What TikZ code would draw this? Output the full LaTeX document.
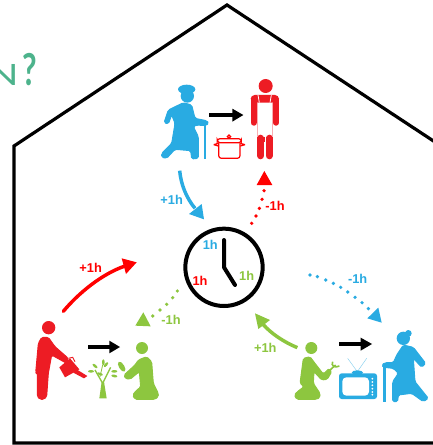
\documentclass[tikz,border=0pt]{standalone}
\usepackage{fontspec}
\setmainfont{Liberation Sans}
\newfontfamily\latofont{Lato}
\definecolor{cblue}{HTML}{29ABE2}
\definecolor{cred}{HTML}{ED1C24}
\definecolor{pred}{HTML}{FF0000}
\definecolor{cgreen}{HTML}{8DC63F}
\definecolor{cteal}{HTML}{4DB38C}
\tikzset{
  lab/.style={font=\bfseries\fontsize{9.6}{11}\selectfont,inner sep=0pt},
  figshape/.style={line join=round,rounded corners=1.2pt,line width=0.7pt},
  blackarrow/.style={line width=2.3pt},
  zoomA/.style={shift={(130,60)},x=0.25pt,y=-0.25pt},
  zoomB/.style={shift={(20,250)},x=0.25pt,y=-0.25pt},
  zoomC/.style={shift={(240,260)},x=0.25pt,y=-0.25pt},
  zoomD/.style={shift={(170,215)},x=0.25pt,y=-0.25pt},
}
\begin{document}
\begin{tikzpicture}[x=0.75pt,y=-0.75pt]
\useasboundingbox (0,0) rectangle (432,445);
\fill[white] (0,0) rectangle (432,445);
% heading fragment
\node[anchor=base east,inner sep=0pt,text=cteal,font=\latofont\fontsize{22}{24}\selectfont,xscale=1.35] (headn) at (19,86) {N};
\node[anchor=base east,inner sep=0pt,text=cteal,font=\latofont\bfseries\fontsize{33}{36}\selectfont,xscale=0.72] (headq) at (37,86) {?};
% house
\coordinate (h1) at (14,146);
\coordinate (h2) at (227,5);
\coordinate (h3) at (440,145.3);
\coordinate (h4) at (440,443);
\coordinate (h5) at (14,443);
\draw[line width=2.4pt,line join=miter] (h3) -- (h2) -- (h1) -- (h5) -- (h4);
% clock
\begin{scope}[zoomD]
\node[circle,draw,line width=3pt,minimum size=58pt,inner sep=0pt] (clock) at (162,157) {};
\draw[line width=3pt,line cap=round,line join=round] (162,75) -- (162,157) -- (195,210);
\node[lab,text=cblue] at (121,90) {1h};
\node[lab,text=pred] at (90,197) {1h};
\node[lab,text=cgreen] at (230,183) {1h};
\end{scope}
% upper-left grandmother and upper-right cook
\begin{scope}[zoomA]
\fill[cblue] (170,88) ellipse (26 and 14);
\fill[cblue] (172,108) circle (20);
\filldraw[cblue,figshape] (160,128) -- (185,135) -- (195,175) -- (230,182) -- (237,190) -- (225,197) -- (200,195) -- (190,200) -- (205,230) -- (205,295) -- (185,297) -- (182,272) -- (135,268) -- (110,295) -- (95,292) -- (95,280) -- (125,250) -- (135,190) -- (125,165) -- (115,192) -- (102,188) -- (115,150) -- cycle;
\draw[cblue,line width=1.6pt] (226,195) -- (226,298);
% cook
\fill[cred] (407,78) circle (21);
\draw[cred,line width=4.6pt,line cap=round] (371,120) -- (371,188);
\draw[cred,line width=4.6pt,line cap=round] (438,120) -- (438,188);
\fill[cred,rounded corners=3pt] (362,105) rectangle (447,128);
\fill[cred] (362,120) rectangle (380,135);
\fill[cred] (429,120) rectangle (447,135);
\fill[cred] (380,230) rectangle (430,245);
\draw[cred,line width=5.5pt,line cap=round] (392,235) -- (392,287);
\draw[cred,line width=5.5pt,line cap=round] (418,235) -- (418,287);
\draw[white,line width=0.5pt] (405,232) -- (405,297);
\draw[cred!35,line width=0.3pt] (382,128) -- (382,230) (428,128) -- (428,230);
\draw[white,line width=0.6pt] (384,105) -- (388,128);
\draw[white,line width=0.6pt] (424,105) -- (420,128);
% pot
\draw[pred,line width=0.9pt,rounded corners=2pt] (266,248) -- (266,295) -- (330,295) -- (330,248);
\draw[pred,line width=0.9pt,rounded corners=2pt] (262,236) rectangle (334,248);
\draw[pred,line width=0.9pt] (251,254) -- (265,250) (251,254) -- (265,258);
\draw[pred,line width=0.9pt] (345,254) -- (331,250) (345,254) -- (331,258);
\draw[pred,line width=0.9pt] (297,230) circle (5);
% black arrow
\coordinate (a1s) at (238,165);
\coordinate (a1e) at (310,165);
\draw[blackarrow] (a1s) -- (a1e);
\fill (307,146) -- (340,165) -- (307,185) -- cycle;
% blue +1h arrow
\coordinate (b1s) at (149,332);
\coordinate (b1e) at (195,445);
\draw[cblue,line width=2.6pt] (b1s) .. controls (153,375) and (170,415) .. (b1e);
\fill[cblue] (222,478) -- (177,462) -- (215,432) -- cycle;
\node[lab,text=cblue] at (125,420) {+1h};
% red dotted arrow
\foreach \p in {(365,490),(378,468),(388,445),(396,418),(402,392)}
  \fill[pred] \p circle (5.5);
\fill[pred] (403,333) -- (380,375) -- (427,375) -- cycle;
\node[lab,text=pred] at (435,438) {-1h};
\end{scope}
% lower-left
\begin{scope}[zoomB]
\fill[cred] (86,233) circle (20);
\filldraw[cred,figshape] (65,262) -- (85,262) -- (105,290) -- (145,325) -- (140,340) -- (95,315) -- (85,370) -- (80,440) -- (72,448) -- (60,448) -- (52,440) -- (52,368) -- (47,368) -- (55,280) -- cycle;
\fill[cred] (118,352) -- (150,325) -- (178,358) -- (135,382) -- cycle;
\fill[cred] (165,355) -- (202,378) -- (192,385) -- (160,368) -- cycle;
\draw[cred,line width=0.7pt] (145,325) -- (158,322) -- (165,335);
% black arrow
\coordinate (a2s) at (204,291);
\coordinate (a2e) at (272,291);
\draw[blackarrow] (a2s) -- (a2e);
\fill (268,272) -- (300,291) -- (268,310) -- cycle;
% tree
\fill[cgreen] (238,445) -- (245,395) -- (252,395) -- (260,445) -- cycle;
\draw[cgreen,line width=1pt] (248,400) -- (225,360);
\draw[cgreen,line width=1pt] (248,400) -- (272,352);
\draw[cgreen,line width=0.6pt] (240,380) -- (248,345);
\foreach \x/\y/\a in {213/364/0,225/348/-40,240/372/-20,258/344/50,250/337/90,283/364/0,283/378/-10}
  \fill[cgreen,rotate around={\a:(\x,\y)}] (\x,\y) ellipse (9 and 4);
% kneeling gardener
\fill[cgreen] (366,294) circle (18);
\filldraw[cgreen,figshape] (355,330) -- (380,320) -- (395,335) -- (400,400) -- (415,430) -- (415,440) -- (405,448) -- (345,448) -- (338,435) -- (350,420) -- (362,412) -- (358,365) -- (330,388) -- (315,385) -- (312,375) -- (345,345) -- cycle;
\fill[cgreen,rotate around={-58:(305,350)}] (305,350) ellipse (17 and 8);
% red +1h arrow
\coordinate (r1s) at (130,184);
\coordinate (r1e) at (315,48);
\draw[pred,line width=2.6pt,line cap=round] (r1s) .. controls (175,130) and (245,72) .. (r1e);
\fill[pred] (350,37) -- (305,25) -- (318,72) -- cycle;
\node[lab,text=pred] at (212,53) {+1h};
% green dotted arrow
\foreach \p in {(472,123),(458,143),(440,163),(420,180),(398,198)}
  \fill[cgreen] \p circle (5.5);
\fill[cgreen] (370,187) -- (346,227) -- (392,229) -- cycle;
\node[lab,text=cgreen] at (453,210) {-1h};
\end{scope}
% lower-right
\begin{scope}[zoomC]
% mechanic
\fill[cgreen] (214,264) circle (18);
\filldraw[cgreen,figshape] (190,295) -- (210,290) -- (225,310) -- (250,342) -- (268,325) -- (275,335) -- (262,358) -- (245,360) -- (222,335) -- (220,370) -- (240,400) -- (240,412) -- (230,418) -- (170,418) -- (163,405) -- (172,395) -- (192,380) -- (180,370) -- cycle;
\draw[cgreen,line width=1.2pt] (270,330) -- (287,315);
\draw[cgreen,line width=1.2pt] (278,305) .. controls (272,318) and (285,325) .. (298,318);
% TV
\draw[cblue!60,line width=0.3pt] (352,335) -- (323,295);
\draw[cblue!60,line width=0.3pt] (352,335) -- (380,295);
\fill[cblue] (352,338) ellipse (17 and 7);
\fill[cblue,rounded corners=2pt] (297,340) rectangle (411,417);
\fill[white,rounded corners=3pt] (307,352) rectangle (387,407);
\foreach \y in {356,366,376,386,396,404}
  \fill[white] (397,\y) circle (3);
% black arrow
\coordinate (a3s) at (297,252);
\coordinate (a3e) at (365,252);
\draw[blackarrow] (a3s) -- (a3e);
\fill (362,233) -- (396,252) -- (362,272) -- cycle;
% grandmother
\fill[cblue] (490,235) circle (20);
\fill[cblue] (505,220) circle (10);
\filldraw[cblue,figshape] (490,255) -- (520,262) -- (557,310) -- (545,322) -- (520,295) -- (525,365) -- (565,415) -- (550,425) -- (515,400) -- (475,405) -- (473,425) -- (458,425) -- (458,365) -- (475,340) -- (460,325) -- (430,322) -- (425,315) -- (435,308) -- (460,308) -- (470,285) -- cycle;
\draw[cblue,line width=1.9pt] (434,320) -- (434,425);
% green +1h arrow
\coordinate (g1s) at (172,263);
\coordinate (g1e) at (68,192);
\draw[cgreen,line width=2.6pt] (g1s) .. controls (130,245) and (95,222) .. (g1e);
\fill[cgreen] (45,160) -- (90,180) -- (55,207) -- cycle;
\node[lab,text=cgreen] at (76,263) {+1h};
% blue dotted arrow
\foreach \p in {(210,45),(232,50),(257,60),(280,70),(302,82),(323,96),(345,112),(366,128),(385,146)}
  \fill[cblue] \p circle (5.5);
\fill[cblue] (425,188) -- (382,175) -- (415,143) -- cycle;
\node[lab,text=cblue] at (353,57) {-1h};
\end{scope}
\end{tikzpicture}
\end{document}
